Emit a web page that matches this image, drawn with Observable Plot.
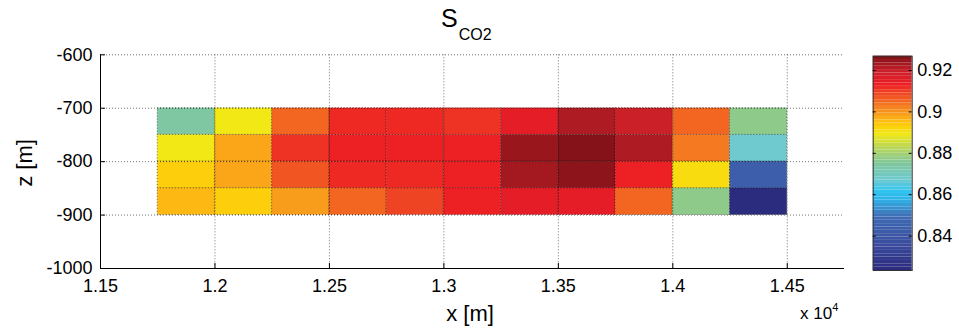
<!DOCTYPE html>
<html><head><meta charset="utf-8">
<script src="https://cdn.jsdelivr.net/npm/d3@7"></script>
<script src="https://cdn.jsdelivr.net/npm/@observablehq/plot@0.6"></script>
<style>
body{margin:0;background:#fff;}
#wrap{position:relative;width:959px;height:329px;}
#wrap svg{position:absolute;top:0;}
</style></head><body><div id="wrap"></div>
<script>
// Column left edges (x, m) and row tops (z, m)
const xLeft = [11750, 12000, 12250, 12500, 12750, 13000, 13250, 13500, 13750, 14000, 14250];
const cellW = 250;
const zTop = [-700, -750, -800, -850];
const cellH = 50;
// S_CO2 per row (top to bottom), per column (left to right)
const row700 = [0.874, 0.889, 0.905, 0.912, 0.912, 0.911, 0.915, 0.922, 0.919, 0.905, 0.877];
const row750 = [0.889, 0.898, 0.911, 0.913, 0.913, 0.913, 0.924, 0.926, 0.922, 0.903, 0.867];
const row800 = [0.893, 0.898, 0.907, 0.912, 0.912, 0.913, 0.923, 0.925, 0.913, 0.891, 0.844];
const row850 = [0.896, 0.893, 0.899, 0.905, 0.909, 0.913, 0.915, 0.915, 0.905, 0.877, 0.824];
const rows = [row700, row750, row800, row850];
const xTicks = [11500, 12000, 12500, 13000, 13500, 14000, 14500];
const yTicks = [-600, -700, -800, -900, -1000];
const cTicks = [0.84, 0.86, 0.88, 0.9, 0.92];
const cRange = [0.8234, 0.9269];
// colormap stops (fraction of colour range) as printed in the colour bar
const jetT = [0, 0.12, 0.25, 0.33, 0.37, 0.42, 0.5, 0.57, 0.635, 0.67, 0.7, 0.74, 0.79, 0.83, 0.87, 0.93, 1];
const jetC = ["#2b2a7c", "#3a4c9e", "#3f6cb4", "#2fb4e8", "#30c4ef", "#6ecad0", "#80c79b", "#b8d65a", "#f2e814", "#fdd00a", "#fdb913", "#f7941d", "#f26522", "#ef4123", "#ed1c24", "#c8202a", "#7a1015"];

const cells = [];
rows.forEach((r, i) => r.forEach((v, j) => cells.push({x1: xLeft[j], x2: xLeft[j] + cellW, y1: zTop[i], y2: zTop[i] - cellH, v})));

const colorOpts = {type: "linear", domain: jetT.map(t => cRange[0] + t * (cRange[1] - cRange[0])), range: jetC, interpolate: "rgb"};
const font = "'Liberation Sans', Arial, sans-serif";

const W = 959, H = 329, mL = 100, mR = 115, mT = 54.3, mB = 61;
const pW = W - mL - mR, pH = H - mT - mB;
const dotted = {stroke: "#000", strokeOpacity: 0.55, strokeDasharray: "1,2"};

const main = Plot.plot({
  width: W, height: H, marginLeft: mL, marginRight: mR, marginTop: mT, marginBottom: mB,
  style: {fontFamily: font, fontSize: "18px", color: "#000", background: "transparent"},
  x: {domain: [11500, 14750], axis: null},
  y: {domain: [-1000, -600], axis: null},
  color: colorOpts,
  marks: [
    Plot.rect(cells, {x1: "x1", x2: "x2", y1: "y1", y2: "y2", fill: "v", ...dotted}),
    Plot.ruleX(xTicks.slice(1), dotted),
    Plot.ruleY(yTicks.slice(0, 4), dotted),
    Plot.ruleX(xTicks, {stroke: "#000", insetTop: pH - 5}),
    Plot.ruleY(yTicks, {stroke: "#000", insetRight: pW - 5}),
    Plot.ruleX([11500], {stroke: "#000"}),
    Plot.ruleY([-1000], {stroke: "#000"}),
    Plot.axisX(xTicks, {tickSize: 0, tickPadding: 11, tickFormat: d => String(+(d / 1e4).toFixed(3)), label: null, fontSize: 18}),
    Plot.axisY(yTicks, {tickSize: 0, tickPadding: 8, tickFormat: d => String(d), label: null, fontSize: 18})
  ]
});
main.style.left = "0px";
document.getElementById("wrap").appendChild(main);

const svg = d3.select(main);
const t = svg.append("text").attr("x", 441).attr("y", 27).attr("text-anchor", "start").attr("font-family", font).attr("fill", "#000");
t.append("tspan").attr("font-size", 25).text("S");
t.append("tspan").attr("font-size", 16).attr("dy", 13).attr("dx", 1).text("CO2");
svg.append("text").attr("x", 470).attr("y", 321).attr("text-anchor", "middle")
  .attr("font-family", font).attr("font-size", 22).text("x [m]");
svg.append("text").attr("transform", `translate(32,163) rotate(-90)`).attr("text-anchor", "middle")
  .attr("font-family", font).attr("font-size", 22).text("z [m]");
const e = svg.append("text").attr("x", 800).attr("y", 319).attr("text-anchor", "start").attr("font-family", font).attr("font-size", 17);
e.append("tspan").text("x 10");
e.append("tspan").attr("font-size", 11).attr("dy", -8).text("4");

// colorbar
const nLev = 64;
const bands = d3.range(nLev).map(i => {
  const a = cRange[0] + (cRange[1] - cRange[0]) * i / nLev;
  const b = cRange[0] + (cRange[1] - cRange[0]) * (i + 1) / nLev;
  return {a, b, m: (a + b) / 2};
});
const cbL = 12.7, cbW = 39;
const cb = Plot.plot({
  width: 99, height: H, marginLeft: cbL, marginRight: 99 - cbL - cbW, marginTop: 55.7, marginBottom: 59,
  style: {fontFamily: font, fontSize: "18px", color: "#000", background: "transparent"},
  x: {domain: [0, 1], axis: null},
  y: {domain: cRange, axis: null},
  color: colorOpts,
  marks: [
    Plot.rect(bands, {x1: 0, x2: 1, y1: "a", y2: "b", fill: "m"}),
    Plot.frame({stroke: "#333"}),
    Plot.ruleY(cTicks, {stroke: "#000", insetRight: cbW - 3}),
    Plot.ruleY(cTicks, {stroke: "#000", insetLeft: cbW - 3}),
    Plot.axisY(cTicks, {anchor: "right", tickSize: 0, tickPadding: 5, tickFormat: d => String(d), label: null, fontSize: 18})
  ]
});
cb.style.left = "860px";
document.getElementById("wrap").appendChild(cb);
</script></body></html>
